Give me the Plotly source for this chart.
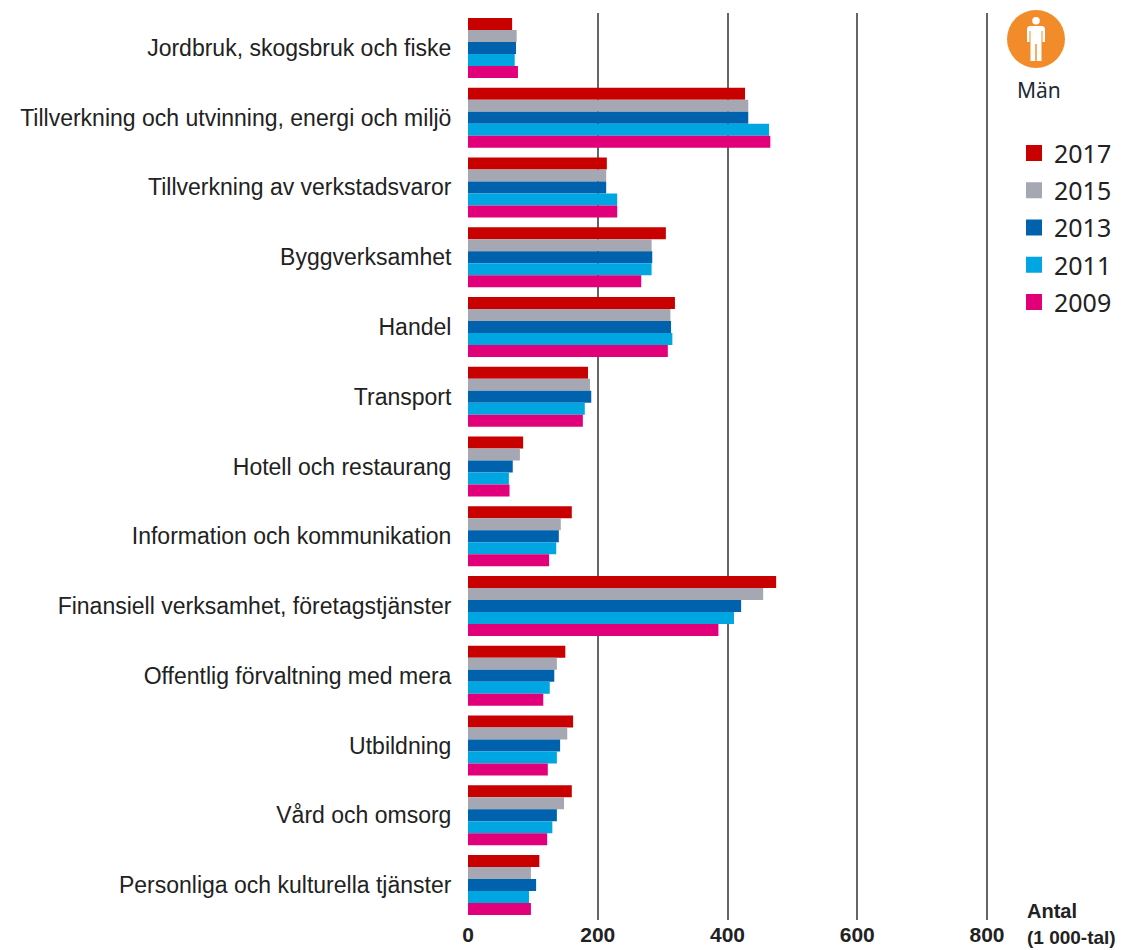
import plotly.graph_objects as go

W, H = 1134, 950
L, R, T, B = 468, 988.3, 13, 920

categories = [
    "Jordbruk, skogsbruk och fiske",
    "Tillverkning och utvinning, energi och miljö",
    "Tillverkning av verkstadsvaror",
    "Byggverksamhet",
    "Handel",
    "Transport",
    "Hotell och restaurang",
    "Information och kommunikation",
    "Finansiell verksamhet, företagstjänster",
    "Offentlig förvaltning med mera",
    "Utbildning",
    "Vård och omsorg",
    "Personliga och kulturella tjänster",
]
y2017 = [68, 427, 214, 305, 319, 185, 85, 160, 475, 150, 162, 160, 110]
y2015 = [75, 432, 213, 283, 312, 188, 80, 143, 455, 137, 153, 148, 97]
y2013 = [74, 432, 213, 284, 313, 190, 69, 140, 421, 133, 142, 137, 105]
y2011 = [72, 464, 230, 283, 315, 180, 63, 136, 410, 126, 137, 130, 94]
y2009 = [77, 466, 230, 267, 308, 177, 64, 125, 386, 116, 123, 122, 97]
years = ["2017", "2015", "2013", "2011", "2009"]
colors = ["#C80000", "#A5A7B2", "#0062AC", "#00A6E2", "#E2007A"]
series = [y2017, y2015, y2013, y2011, y2009]
x_ticks = [0, 200, 400, 600, 800]

TEXT = "Noto Sans, Open Sans, sans-serif"
LABEL = "Liberation Sans, sans-serif"
BOLD = "Liberation Sans, sans-serif"


def px(x):
    return x / W


def py(y):
    return 1 - y / H


fig = go.Figure()
for name, vals, col in zip(years, series, colors):
    fig.add_trace(go.Bar(name=name, y=categories, x=vals, orientation="h",
                         marker=dict(color=col, line=dict(width=0))))

shapes = [
    dict(type="circle", xref="paper", yref="paper", x0=px(1007), x1=px(1065),
         y0=py(10), y1=py(68), fillcolor="#F28C2A", line=dict(width=0)),
    dict(type="circle", xref="paper", yref="paper", x0=px(1032.2), x1=px(1039.8),
         y0=py(17), y1=py(24.5), fillcolor="white", line=dict(width=0)),
]
# person body
pts = [(1029, 26), (1043, 26), (1045, 28), (1045, 42), (1042.5, 42), (1042.5, 31),
       (1041.5, 31), (1041.5, 61), (1036.7, 61), (1036.7, 44), (1035.3, 44),
       (1035.3, 61), (1030.5, 61), (1030.5, 31), (1029.5, 31), (1029.5, 42),
       (1027, 42), (1027, 28)]
path = "M " + " L ".join(f"{px(a):.5f},{py(b):.5f}" for a, b in pts) + " Z"
shapes.append(dict(type="path", xref="paper", yref="paper", path=path,
                   fillcolor="white", line=dict(width=0)))

annotations = [
    dict(text="Män", x=px(1039), y=py(90), showarrow=False, xref="paper", yref="paper",
         xanchor="center", yanchor="middle", font=dict(family=TEXT, size=21, color="#1c2a36")),
    dict(text="<b>Antal</b>", x=px(1025), y=py(911), showarrow=False, xref="paper", yref="paper",
         xanchor="left", yanchor="middle", font=dict(family=BOLD, size=20, color="#222")),
    dict(text="<b>(1 000-tal)</b>", x=px(1025), y=py(937), showarrow=False, xref="paper", yref="paper",
         xanchor="left", yanchor="middle", font=dict(family=BOLD, size=19, color="#222")),
]
for i, (name, col) in enumerate(zip(years, colors)):
    cy = 153 + i * 37.25
    shapes.append(dict(type="rect", xref="paper", yref="paper", x0=px(1026), x1=px(1042),
                       y0=py(cy - 8), y1=py(cy + 8), fillcolor=col, line=dict(width=0)))
    annotations.append(dict(text=name, x=px(1052), y=py(cy), showarrow=False, xref="paper",
                            yref="paper", xanchor="left", yanchor="middle",
                            font=dict(family=TEXT, size=25, color="#222")))

fig.update_layout(
    width=W, height=H, margin=dict(l=0, r=0, t=0, b=0, pad=0),
    barmode="group", bargap=0.14, bargroupgap=0,
    paper_bgcolor="white", plot_bgcolor="white", showlegend=False,
    shapes=shapes, annotations=annotations,
    xaxis=dict(domain=[L / W, R / W], range=[0, 802], tickvals=x_ticks,
               ticktext=[f"<b>{v}</b>" for v in x_ticks],
               showgrid=True, gridcolor="#666",
               gridwidth=1.5, zeroline=False, showline=False, ticks="", automargin=False,
               tickfont=dict(family=BOLD, size=21, color="#222")),
    yaxis=dict(domain=[1 - B / H, 1 - T / H], autorange="reversed", type="category",
               showgrid=False, zeroline=False, automargin=False,
               showline=False, ticks="outside", ticklen=11, tickcolor="rgba(0,0,0,0)",
               tickfont=dict(family=LABEL, size=23, color="#222")),
)
fig.write_html("out.html", post_script="document.body.style.margin='0';",
               config={"displayModeBar": False})
